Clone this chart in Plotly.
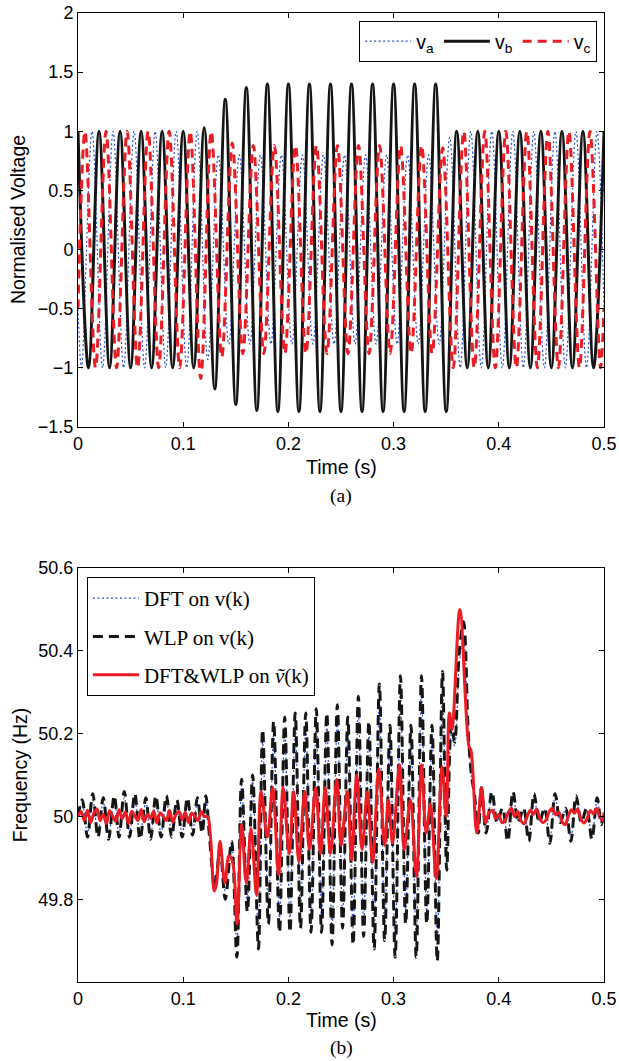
import numpy as np
import plotly.graph_objects as go

# ---------------- (a) three-phase voltages ----------------
HALF = 0.01          # half period of 50 Hz (s)
# amplitudes of successive half-cycle extrema
vb_t0 = 0.0
vb_sign0 = 1
vb_amp = [1.0] * 12 + [1.03, 1.18, 1.27, 1.31, 1.37, 1.36] + [1.40, 1.37] * 9 + [1.0] * 15
va_t0 = 1 / 300
va_sign0 = -1
va_amp = [1.0] * 12 + [0.93] + [0.80] * 22 + [0.95] + [1.0] * 14
vc_t0 = 2 / 300
vc_sign0 = 1
vc_amp = [1.0] * 11 + [1.09, 1.0, 0.91, 0.90] + [0.88] * 19 + [0.86, 1.0] + [1.0] * 14
va_start, va_end = -0.5, -0.5
vc_start, vc_end = -0.5, -0.5

# ---------------- (b) frequency estimates ----------------
t_est = [0.000, 0.004, 0.009, 0.014, 0.019, 0.024, 0.029, 0.0345, 0.039, 0.044, 0.049, 0.054,
         0.059, 0.0645, 0.069, 0.074, 0.079, 0.084, 0.089, 0.094, 0.099, 0.104, 0.109, 0.1135, 0.118,
         0.1215, 0.125, 0.130, 0.135, 0.140, 0.146, 0.151, 0.1555, 0.161, 0.166, 0.1715, 0.1755,
         0.181, 0.186, 0.1915, 0.1965, 0.2015, 0.2065, 0.2115, 0.2165, 0.2215, 0.2265, 0.2315,
         0.2365, 0.2415, 0.2465, 0.2515, 0.2565, 0.2615, 0.2665, 0.2715, 0.2765, 0.2815, 0.2865,
         0.2915, 0.2965, 0.3015, 0.3065, 0.3115, 0.3165, 0.3215, 0.3265, 0.3315, 0.3365, 0.3415,
         0.3465, 0.3505, 0.355, 0.358, 0.3625, 0.3665, 0.371, 0.374, 0.377, 0.3805, 0.3835, 0.388,
         0.3935, 0.3985, 0.4035, 0.4085, 0.4135, 0.4185, 0.4235, 0.4285, 0.4335, 0.4385, 0.4435,
         0.4485, 0.4535, 0.4585, 0.4635, 0.4685, 0.4735, 0.4785, 0.4835, 0.4885, 0.4935, 0.4975, 0.500]
f_wlp = [50.00, 50.04, 49.95, 50.055, 49.95, 50.045, 49.945, 50.05, 49.95, 50.06, 49.95, 50.055,
         49.945, 50.045, 49.945, 50.05, 49.95, 50.05, 49.95, 50.04, 49.95, 50.045, 49.955, 50.045, 49.96,
         50.05, 49.95, 49.83, 49.92, 49.80, 49.94, 49.66, 50.09, 49.77, 50.10, 49.68, 50.21,
         49.74, 50.23, 49.72, 50.24, 49.72, 50.25, 49.73, 50.25, 49.72, 50.26, 49.72,
         50.25, 49.69, 50.27, 49.73, 50.24, 49.69, 50.29, 49.71, 50.23, 49.68, 50.32,
         49.70, 50.22, 49.66, 50.34, 49.74, 50.22, 49.66, 50.34, 49.74, 50.22, 49.65,
         50.35, 49.87, 50.22, 50.18, 50.40, 50.47, 50.20, 50.10, 50.05, 49.96, 50.07, 49.96,
         50.06, 49.985, 50.02, 49.94, 50.06, 49.985, 50.02, 49.94, 50.055, 49.985, 50.02,
         49.935, 50.055, 49.985, 50.02, 49.94, 50.05, 49.985, 50.02, 49.945, 50.045, 49.98, 50.01]
f_dft = [50.00, 50.03, 49.96, 50.04, 49.96, 50.035, 49.955, 50.04, 49.96, 50.045, 49.96, 50.04,
         49.955, 50.035, 49.955, 50.04, 49.96, 50.04, 49.96, 50.03, 49.96, 50.035, 49.965, 50.035, 49.97,
         50.04, 49.955, 49.85, 49.925, 49.82, 49.935, 49.69, 50.075, 49.795, 50.085, 49.71, 50.18,
         49.77, 50.20, 49.755, 50.21, 49.755, 50.22, 49.765, 50.22, 49.755, 50.23, 49.755,
         50.22, 49.73, 50.24, 49.765, 50.21, 49.73, 50.255, 49.745, 50.20, 49.72, 50.28,
         49.735, 50.195, 49.70, 50.30, 49.77, 50.195, 49.70, 50.30, 49.77, 50.195, 49.69,
         50.31, 49.885, 50.20, 50.17, 50.37, 50.43, 50.19, 50.095, 50.045, 49.965, 50.06, 49.965,
         50.05, 49.99, 50.015, 49.95, 50.05, 49.99, 50.015, 49.95, 50.045, 49.99, 50.015,
         49.945, 50.045, 49.99, 50.015, 49.95, 50.04, 49.99, 50.015, 49.955, 50.04, 49.985, 50.01]

t_red_pre = list(np.round(0.003 * np.arange(41), 4))
f_red_pre = [50.000, 50.012, 49.990, 50.015, 49.985, 50.008, 50.018, 49.990, 50.005, 49.982,
             50.014, 50.000, 49.988, 50.016, 49.995, 50.010, 49.983, 50.012, 50.002, 49.990,
             50.017, 49.987, 50.006, 49.995, 50.013, 49.984, 50.009, 50.000, 49.990, 50.015,
             49.986, 50.004, 50.012, 49.992, 50.010, 49.985, 50.008, 50.000, 49.990, 50.012, 50.000]
t_red_mid = [0.123, 0.126, 0.1295, 0.1315, 0.135, 0.1395, 0.1435, 0.147, 0.1512, 0.1555, 0.160,
             0.1645, 0.1697, 0.174, 0.180, 0.185, 0.1907, 0.195, 0.2008, 0.205, 0.210, 0.2155,
             0.220, 0.226, 0.2305, 0.235, 0.240, 0.246, 0.250, 0.256, 0.260, 0.265, 0.270, 0.275,
             0.280, 0.286, 0.2915, 0.295, 0.299, 0.3056, 0.310, 0.316, 0.3217, 0.3266, 0.331,
             0.335, 0.3405, 0.346, 0.350, 0.353, 0.3555, 0.363, 0.3716, 0.3735, 0.379, 0.3836, 0.3874]
f_red_mid = [50.00, 49.95, 49.82, 49.835, 49.94, 49.84, 49.905, 49.89, 49.74, 49.98, 49.84,
             49.97, 49.81, 50.06, 49.95, 50.07, 49.86, 50.07, 49.91, 50.06, 49.89, 50.06,
             49.92, 50.07, 49.91, 50.07, 49.91, 50.09, 49.93, 50.06, 49.895, 50.10, 49.92, 50.06,
             49.89, 50.115, 49.93, 50.04, 49.935, 50.125, 49.92, 50.04, 49.855, 50.125, 49.96,
             50.03, 49.85, 50.12, 50.00, 50.25, 50.21, 50.50, 50.17, 50.16, 49.96, 50.07, 49.985]
t_red_post = list(np.round(0.391 + 0.003 * np.arange(37), 4)) + [0.5]
f_red_post = [50.01, 50.015, 49.995, 50.005, 49.985, 49.99, 50.01, 50.02, 50.0, 50.012,
              49.99, 49.982, 50.0, 50.015, 50.005, 50.018, 49.995, 49.985, 49.992, 50.012,
              50.02, 50.004, 50.01, 49.988, 49.98, 50.0, 50.016, 50.008, 50.018, 49.994,
              49.984, 49.995, 50.014, 50.006, 50.02, 49.998, 49.99, 50.01]
t_red = t_red_pre + t_red_mid + t_red_post
f_red = f_red_pre + f_red_mid + f_red_post


def extrema(t0, sign0, amps, v_start=None, v_end=None):
    k = np.arange(len(amps))
    t = list(t0 + HALF * k)
    v = list(sign0 * (-1.0) ** k * np.array(amps))
    if v_start is not None:
        t = [0.0] + t
        v = [v_start] + v
    if v_end is not None:
        t = t + [0.5]
        v = v + [v_end]
    return t, v


ta, va = extrema(va_t0, va_sign0, va_amp, va_start, va_end)
tb, vb = extrema(vb_t0, vb_sign0, vb_amp)
tc, vc = extrema(vc_t0, vc_sign0, vc_amp, vc_start, vc_end)

BLUE = '#2a4bd0'
BLACK = '#151515'
RED = '#ec1c24'
SANS = 'Liberation Sans, Arial, sans-serif'
SERIF = 'Liberation Serif, DejaVu Serif, serif'

fig = go.Figure()
fig.add_trace(go.Scatter(x=ta, y=va, mode='lines', name='v<sub>a</sub>', line_shape='spline',
                         line=dict(color=BLUE, width=1.2, dash='2px,2.5px'), xaxis='x', yaxis='y'))
fig.add_trace(go.Scatter(x=tb, y=vb, mode='lines', name='v<sub>b</sub>', line_shape='spline',
                         line=dict(color=BLACK, width=3), xaxis='x', yaxis='y'))
fig.add_trace(go.Scatter(x=tc, y=vc, mode='lines', name='v<sub>c</sub>', line_shape='spline',
                         line=dict(color=RED, width=3, dash='9px,6px'), xaxis='x', yaxis='y'))

fig.add_trace(go.Scatter(x=t_est, y=f_dft, mode='lines', name='DFT on v(k)', line_shape='spline',
                         line=dict(color=BLUE, width=1.2, dash='2px,2.5px'), xaxis='x2', yaxis='y2',
                         legend='legend2', legendgroup='g1'))
fig.add_trace(go.Scatter(x=t_est, y=f_wlp, mode='lines', name='WLP on v(k)', line_shape='spline',
                         line=dict(color=BLACK, width=3, dash='10px,6px'), xaxis='x2', yaxis='y2',
                         legend='legend2', legendgroup='g2'))
fig.add_trace(go.Scatter(x=t_red, y=f_red, mode='lines', name='DFT&amp;WLP on <i>ṽ</i>(k)',
                         line_shape='spline', line=dict(color=RED, width=3), xaxis='x2', yaxis='y2',
                         legend='legend2', legendgroup='g3'))

axis_common = dict(showline=True, linecolor='black', linewidth=1, mirror='ticks', ticks='inside',
                   ticklen=5, tickcolor='black', showgrid=False, zeroline=False, automargin=False,
                   tickfont=dict(family=SANS, size=18, color='black'))

fig.update_layout(
    template='none',
    width=619, height=1061,
    margin=dict(l=78, r=15, t=13, b=79),
    paper_bgcolor='white', plot_bgcolor='white',
    xaxis=dict(domain=[0, 1], anchor='y', range=[0, 0.5], dtick=0.1, **axis_common),
    yaxis=dict(domain=[0.5728, 1], anchor='x', range=[-1.5, 2], dtick=0.5, **axis_common),
    xaxis2=dict(domain=[0, 1], anchor='y2', range=[0, 0.5], dtick=0.1, **axis_common),
    yaxis2=dict(domain=[0, 0.4272], anchor='x2', range=[49.6, 50.6],
                tickvals=[49.8, 50.0, 50.2, 50.4, 50.6], **axis_common),
    legend=dict(orientation='h', x=0.987, xanchor='right', y=0.9917, yanchor='top',
                bgcolor='white', bordercolor='black', borderwidth=1, itemwidth=46,
                font=dict(family=SANS, size=19.5, color='black')),
    legend2=dict(orientation='v', x=0.017, xanchor='left', y=0.418, yanchor='top',
                 bgcolor='white', bordercolor='black', borderwidth=1, tracegroupgap=8,
                 traceorder='grouped', itemwidth=46,
                 font=dict(family=SERIF, size=21, color='black')),
    showlegend=True,
)

annos = [
    dict(text='Normalised Voltage', x=-0.114, y=0.7864, textangle=-90, size=19.5, fam=SANS),
    dict(text='Time (s)', x=0.5, y=0.5315, textangle=0, size=19.5, fam=SANS),
    dict(text='(a)', x=0.5, y=0.5015, textangle=0, size=19.5, fam=SERIF),
    dict(text='Frequency (Hz)', x=-0.11, y=0.2136, textangle=-90, size=19.5, fam=SANS),
    dict(text='Time (s)', x=0.5, y=-0.039, textangle=0, size=19.5, fam=SANS),
    dict(text='(b)', x=0.5, y=-0.068, textangle=0, size=19.5, fam=SERIF),
]
for a in annos:
    fig.add_annotation(text=a['text'], x=a['x'], y=a['y'], xref='paper', yref='paper',
                       xanchor='center', yanchor='middle', textangle=a['textangle'],
                       showarrow=False, font=dict(family=a['fam'], size=a['size'], color='black'))

# remove the browser's default 8 px body margin so the figure sits at the page origin
fig.write_html('out.html', config={'displayModeBar': False},
               post_script="document.body.style.margin='0';")
